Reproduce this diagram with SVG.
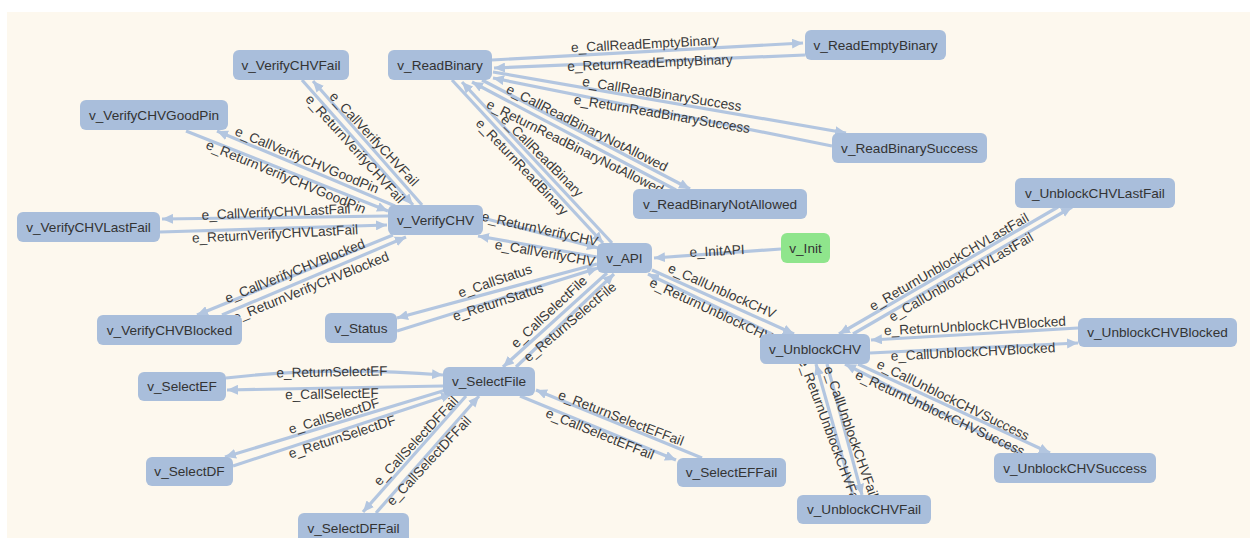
<svg xmlns="http://www.w3.org/2000/svg" width="1250" height="538" viewBox="0 0 1250 538">
<style>
.bg{fill:#fdf8ee}
.node rect{fill:#a9bedb}
#v_Init rect{fill:#8fe58c}
.node text{font-family:"Liberation Sans",Arial,sans-serif;font-size:13.6px;fill:#333;text-anchor:middle;dominant-baseline:central}
.e{stroke:#b3c6e0;stroke-width:3.2;fill:none;marker-end:url(#ah)}
.el{font-family:"Liberation Sans",Arial,sans-serif;font-size:13.6px;fill:#3a3a3a;text-anchor:middle;dominant-baseline:central}
</style>
<defs>
<marker id="ah" markerUnits="userSpaceOnUse" markerWidth="12" markerHeight="10" refX="11" refY="5" orient="auto">
<path d="M0,0 L11,5 L0,10 z" fill="#b3c6e0"/>
</marker>
</defs>
<rect x="0" y="0" width="1250" height="538" fill="#ffffff"/>
<rect class="bg" x="7" y="12" width="1243" height="526"/>
<g id="connectors">
<path class="e" d="M492,60 L803,43"/>
<path class="e" d="M805,55 L494,68"/>
<path class="e" d="M493,72 L846,133"/>
<path class="e" d="M832,146 L493,78"/>
<path class="e" d="M482,80 L690,189"/>
<path class="e" d="M676,190 L472,82"/>
<path class="e" d="M612,243 L462,82"/>
<path class="e" d="M452,80 L603,243"/>
<path class="e" d="M422,205 L313,81"/>
<path class="e" d="M302,80 L413,205"/>
<path class="e" d="M395,206 L217,131"/>
<path class="e" d="M186,131 L388,211"/>
<path class="e" d="M388,216 L162,219"/>
<path class="e" d="M160,232 L387,225"/>
<path class="e" d="M393,235 L197,315"/>
<path class="e" d="M222,315 L406,237"/>
<path class="e" d="M483,218 L598,248"/>
<path class="e" d="M597,257 L478,236"/>
<path class="e" d="M781,249 L654,258"/>
<path class="e" d="M597,264 L397,318"/>
<path class="e" d="M397,331 L598,268"/>
<path class="e" d="M607,273 L503,367"/>
<path class="e" d="M516,367 L614,274"/>
<path class="e" d="M652,270 L794,334"/>
<path class="e" d="M772,334 L648,274"/>
<path class="e" d="M226,378 Q330,366 443,375"/>
<path class="e" d="M443,386 L227,390"/>
<path class="e" d="M446,390 L225,457"/>
<path class="e" d="M233,466 L452,394"/>
<path class="e" d="M466,396 L363,512"/>
<path class="e" d="M376,513 L479,396"/>
<path class="e" d="M702,458 L536,390"/>
<path class="e" d="M520,396 L676,460"/>
<path class="e" d="M1058,207 L839,334"/>
<path class="e" d="M853,334 L1072,207"/>
<path class="e" d="M1078,328 L871,340"/>
<path class="e" d="M870,353 L1078,343"/>
<path class="e" d="M858,364 L1050,453"/>
<path class="e" d="M1020,453 L845,364"/>
<path class="e" d="M827,364 L862,495"/>
<path class="e" d="M853,495 L816,364"/>
<g id="edge-labels">
<text class="el" transform="translate(645,44) rotate(-3)">e_CallReadEmptyBinary</text>
<text class="el" transform="translate(650,63) rotate(-2.5)">e_ReturnReadEmptyBinary</text>
<text class="el" transform="translate(662,94) rotate(9)">e_CallReadBinarySuccess</text>
<text class="el" transform="translate(662,114) rotate(9.5)">e_ReturnReadBinarySuccess</text>
<text class="el" transform="translate(587,128) rotate(26.5)">e_CallReadBinaryNotAllowed</text>
<text class="el" transform="translate(575,147) rotate(26.5)">e_ReturnReadBinaryNotAllowed</text>
<text class="el" transform="translate(542,156) rotate(45)">e_CallReadBinary</text>
<text class="el" transform="translate(522,167) rotate(46.5)">e_ReturnReadBinary</text>
<text class="el" transform="translate(374,139) rotate(47)">e_CallVerifyCHVFail</text>
<text class="el" transform="translate(355,149) rotate(48)">e_ReturnVerifyCHVFail</text>
<text class="el" transform="translate(307,160) rotate(22.5)">e_CallVerifyCHVGoodPin</text>
<text class="el" transform="translate(286,177) rotate(22.5)">e_ReturnVerifyCHVGoodPin</text>
<text class="el" transform="translate(276,212) rotate(-2.5)">e_CallVerifyCHVLastFail</text>
<text class="el" transform="translate(275,234) rotate(-3)">e_ReturnVerifyCHVLastFail</text>
<text class="el" transform="translate(295,271) rotate(-22)">e_CallVerifyCHVBlocked</text>
<text class="el" transform="translate(311,287) rotate(-22)">e_ReturnVerifyCHVBlocked</text>
<text class="el" transform="translate(540,229) rotate(12.5)">e_ReturnVerifyCHV</text>
<text class="el" transform="translate(545,253) rotate(10)">e_CallVerifyCHV</text>
<text class="el" transform="translate(717,251) rotate(-3)">e_InitAPI</text>
<text class="el" transform="translate(495,281) rotate(-19)">e_CallStatus</text>
<text class="el" transform="translate(498,302) rotate(-18)">e_ReturnStatus</text>
<text class="el" transform="translate(549,312) rotate(-43)">e_CallSelectFile</text>
<text class="el" transform="translate(570,322) rotate(-40)">e_ReturnSelectFile</text>
<text class="el" transform="translate(722,291) rotate(24)">e_CallUnblockCHV</text>
<text class="el" transform="translate(711,310) rotate(25)">e_ReturnUnblockCHV</text>
<text class="el" transform="translate(332,372) rotate(-1)">e_ReturnSelectEF</text>
<text class="el" transform="translate(332,394) rotate(-1)">e_CallSelectEF</text>
<text class="el" transform="translate(334,416) rotate(-17)">e_CallSelectDF</text>
<text class="el" transform="translate(342,437) rotate(-18)">e_ReturnSelectDF</text>
<text class="el" transform="translate(416,441) rotate(-47)">e_CallSelectDFFail</text>
<text class="el" transform="translate(429,461) rotate(-47)">e_CallSelectDFFail</text>
<text class="el" transform="translate(621,418) rotate(21)">e_ReturnSelectEFFail</text>
<text class="el" transform="translate(600,434) rotate(22)">e_CallSelectEFFail</text>
<text class="el" transform="translate(949,262) rotate(-30)">e_ReturnUnblockCHVLastFail</text>
<text class="el" transform="translate(961,277) rotate(-30)">e_CallUnblockCHVLastFail</text>
<text class="el" transform="translate(975,326) rotate(-3)">e_ReturnUnblockCHVBlocked</text>
<text class="el" transform="translate(973,352) rotate(-3)">e_CallUnblockCHVBlocked</text>
<text class="el" transform="translate(953,400) rotate(26)">e_CallUnblockCHVSuccess</text>
<text class="el" transform="translate(940,413) rotate(25)">e_ReturnUnblockCHVSuccess</text>
<text class="el" transform="translate(851,432) rotate(70.5)">e_CallUnblockCHVFail</text>
<text class="el" transform="translate(830,432) rotate(69.5)">e_ReturnUnblockCHVFail</text>
</g>
</g>
<g id="v_VerifyCHVFail" class="node"><rect x="233" y="50" width="116" height="30" rx="6"/><text x="291" y="65">v_VerifyCHVFail</text></g>
<g id="v_ReadBinary" class="node"><rect x="388" y="50" width="104" height="30" rx="6"/><text x="440" y="65">v_ReadBinary</text></g>
<g id="v_ReadEmptyBinary" class="node"><rect x="805" y="30" width="141" height="30" rx="6"/><text x="875.5" y="45">v_ReadEmptyBinary</text></g>
<g id="v_ReadBinarySuccess" class="node"><rect x="832" y="133" width="155" height="30" rx="6"/><text x="909.5" y="148">v_ReadBinarySuccess</text></g>
<g id="v_VerifyCHVGoodPin" class="node"><rect x="80" y="100" width="148" height="30" rx="6"/><text x="154" y="115">v_VerifyCHVGoodPin</text></g>
<g id="v_VerifyCHVLastFail" class="node"><rect x="17" y="212" width="143" height="30" rx="6"/><text x="88.5" y="227">v_VerifyCHVLastFail</text></g>
<g id="v_VerifyCHV" class="node"><rect x="388" y="205" width="95" height="30" rx="6"/><text x="435.5" y="220">v_VerifyCHV</text></g>
<g id="v_ReadBinaryNotAllowed" class="node"><rect x="633" y="189" width="174" height="30" rx="6"/><text x="720" y="204">v_ReadBinaryNotAllowed</text></g>
<g id="v_Init" class="node"><rect x="781" y="233" width="49" height="30" rx="6"/><text x="805.5" y="248">v_Init</text></g>
<g id="v_API" class="node"><rect x="597" y="243" width="55" height="30" rx="6"/><text x="624.5" y="258">v_API</text></g>
<g id="v_UnblockCHVLastFail" class="node"><rect x="1015" y="178" width="160" height="30" rx="6"/><text x="1095" y="193">v_UnblockCHVLastFail</text></g>
<g id="v_UnblockCHVBlocked" class="node"><rect x="1078" y="318" width="159" height="29" rx="6"/><text x="1157.5" y="332.5">v_UnblockCHVBlocked</text></g>
<g id="v_Status" class="node"><rect x="325" y="313" width="72" height="30" rx="6"/><text x="361" y="328">v_Status</text></g>
<g id="v_VerifyCHVBlocked" class="node"><rect x="97" y="315" width="145" height="30" rx="6"/><text x="169.5" y="330">v_VerifyCHVBlocked</text></g>
<g id="v_UnblockCHV" class="node"><rect x="760" y="334" width="110" height="30" rx="6"/><text x="815" y="349">v_UnblockCHV</text></g>
<g id="v_SelectEF" class="node"><rect x="138" y="372" width="88" height="29" rx="6"/><text x="182" y="386.5">v_SelectEF</text></g>
<g id="v_SelectDF" class="node"><rect x="146" y="457" width="87" height="29" rx="6"/><text x="189.5" y="471.5">v_SelectDF</text></g>
<g id="v_SelectDFFail" class="node"><rect x="298" y="513" width="111" height="30" rx="6"/><text x="353.5" y="528">v_SelectDFFail</text></g>
<g id="v_SelectFile" class="node"><rect x="443" y="367" width="92" height="29" rx="6"/><text x="489" y="381.5">v_SelectFile</text></g>
<g id="v_SelectEFFail" class="node"><rect x="677" y="458" width="109" height="29" rx="6"/><text x="731.5" y="472.5">v_SelectEFFail</text></g>
<g id="v_UnblockCHVSuccess" class="node"><rect x="994" y="453" width="162" height="30" rx="6"/><text x="1075" y="468">v_UnblockCHVSuccess</text></g>
<g id="v_UnblockCHVFail" class="node"><rect x="797" y="495" width="134" height="29" rx="6"/><text x="864" y="509.5">v_UnblockCHVFail</text></g>
</svg>
